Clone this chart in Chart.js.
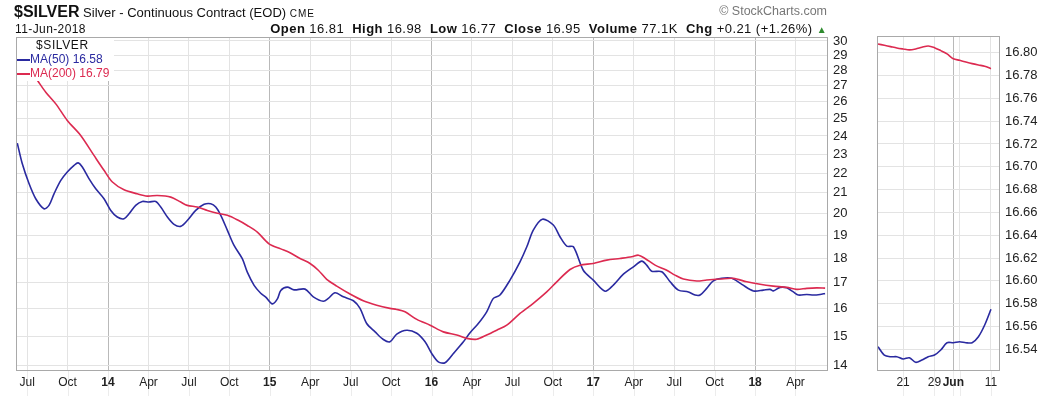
<!DOCTYPE html>
<html>
<head>
<meta charset="utf-8">
<script src="https://cdn.jsdelivr.net/npm/chart.js@4.4.1/dist/chart.umd.min.js"></script>
<style>
  body { margin: 0; width: 1059px; height: 396px; background: #fff; position: relative; overflow: hidden;
         font-family: "Liberation Sans", Arial, sans-serif; color: #111; }
  .txt { position: absolute; white-space: pre; line-height: 1; }
  #mainChart { position: absolute; left: 0; top: 0; }
  #zoomChart { position: absolute; left: 870px; top: 0; }
  #legend { position: absolute; left: 17px; top: 38px; width: 97px; height: 43px; background: #fff; }
</style>
</head>
<body>
<canvas id="mainChart" width="870" height="396"></canvas>
<canvas id="zoomChart" width="189" height="396"></canvas>

<div class="txt" style="left:14px;top:4px"><b style="font-size:16px">$SILVER</b><span style="font-size:13px"> Silver - Continuous Contract (EOD) </span><span style="font-size:10px;letter-spacing:1px">CME</span></div>
<div class="txt" style="left:15px;top:23px;font-size:12px;letter-spacing:0.4px">11-Jun-2018</div>
<div class="txt" style="right:232px;top:5px;font-size:12.5px;color:#777">© StockCharts.com</div>
<div class="txt" style="right:232px;top:22px;font-size:13px;letter-spacing:0.45px"><b>Open</b> 16.81  <b>High</b> 16.98  <b>Low</b> 16.77  <b>Close</b> 16.95  <b>Volume</b> 77.1K  <b>Chg</b> +0.21 (+1.26%) <span style="color:#2e8b2e;font-size:10px">▲</span></div>

<div id="legend">
  <div class="txt" style="left:19px;top:1px;font-size:12px;letter-spacing:0.6px">$SILVER</div>
  <div class="txt" style="left:0;top:15px;font-size:12px;color:#2a2aa0"><span style="display:inline-block;width:13px;height:2px;background:#2a2aa0;vertical-align:middle"></span>MA(50) 16.58</div>
  <div class="txt" style="left:0;top:29px;font-size:12px;color:#dc2a50"><span style="display:inline-block;width:13px;height:2px;background:#dc2a50;vertical-align:middle"></span>MA(200) 16.79</div>
</div>

<script>
// main panel: x is the date as a decimal year
const quarterTicks = [2013.5, 2013.75, 2014, 2014.25, 2014.5, 2014.75, 2015, 2015.25, 2015.5, 2015.75,
  2016, 2016.25, 2016.5, 2016.75, 2017, 2017.25, 2017.5, 2017.75, 2018, 2018.25]
const quarterLabels = ['Jul', 'Oct', '14', 'Apr', 'Jul', 'Oct', '15', 'Apr', 'Jul', 'Oct',
  '16', 'Apr', 'Jul', 'Oct', '17', 'Apr', 'Jul', 'Oct', '18', 'Apr']
const priceTicks = [14, 15, 16, 17, 18, 19, 20, 21, 22, 23, 24, 25, 26, 27, 28, 29, 30]

const ma50Dates = [2013.439, 2013.470, 2013.512, 2013.553, 2013.604, 2013.635, 2013.666, 2013.708, 2013.748, 2013.790,
  2013.815, 2013.841, 2013.883, 2013.924, 2013.975, 2014.017, 2014.057, 2014.099, 2014.130, 2014.171,
  2014.212, 2014.253, 2014.295, 2014.326, 2014.367, 2014.408, 2014.449, 2014.490, 2014.542, 2014.594,
  2014.635, 2014.666, 2014.697, 2014.738, 2014.779, 2014.830, 2014.861, 2014.903, 2014.944, 2014.975,
  2015.016, 2015.047, 2015.068, 2015.108, 2015.150, 2015.218, 2015.269, 2015.331, 2015.362, 2015.403,
  2015.455, 2015.517, 2015.558, 2015.599, 2015.651, 2015.702, 2015.743, 2015.785, 2015.847, 2015.909,
  2015.960, 2016.001, 2016.042, 2016.083, 2016.135, 2016.197, 2016.238, 2016.289, 2016.341, 2016.382,
  2016.423, 2016.485, 2016.547, 2016.589, 2016.629, 2016.685, 2016.753, 2016.794, 2016.836, 2016.877,
  2016.938, 2017.000, 2017.073, 2017.124, 2017.186, 2017.248, 2017.300, 2017.330, 2017.361, 2017.423,
  2017.475, 2017.526, 2017.588, 2017.629, 2017.660, 2017.701, 2017.742, 2017.794, 2017.856, 2017.918,
  2017.990, 2018.051, 2018.093, 2018.113, 2018.155, 2018.196, 2018.237, 2018.268, 2018.320, 2018.360,
  2018.402, 2018.433]
const ma50 = [23.60, 22.48, 21.45, 20.71, 20.23, 20.39, 20.95, 21.62, 22.05, 22.40,
  22.53, 22.31, 21.70, 21.20, 20.71, 20.15, 19.84, 19.76, 19.99, 20.39,
  20.58, 20.55, 20.58, 20.31, 19.84, 19.50, 19.41, 19.68, 20.15, 20.44,
  20.47, 20.31, 19.92, 19.23, 18.56, 17.99, 17.43, 16.90, 16.59, 16.44,
  16.18, 16.37, 16.70, 16.83, 16.72, 16.75, 16.45, 16.28, 16.39, 16.61,
  16.45, 16.30, 16.01, 15.45, 15.15, 14.88, 14.80, 15.07, 15.21, 15.10,
  14.80, 14.40, 14.12, 14.09, 14.40, 14.80, 15.12, 15.45, 15.88, 16.39,
  16.52, 17.11, 17.86, 18.50, 19.24, 19.74, 19.47, 18.94, 18.53, 18.50,
  17.51, 17.11, 16.67, 16.91, 17.35, 17.65, 17.89, 17.72, 17.47, 17.45,
  17.04, 16.71, 16.64, 16.52, 16.52, 16.78, 17.08, 17.18, 17.18, 16.94,
  16.68, 16.71, 16.74, 16.68, 16.82, 16.80, 16.64, 16.52, 16.54, 16.52,
  16.54, 16.58]

const ma200Dates = [2013.437, 2013.499, 2013.563, 2013.615, 2013.677, 2013.748, 2013.831, 2013.913, 2013.975, 2014.027,
  2014.099, 2014.181, 2014.243, 2014.305, 2014.388, 2014.449, 2014.490, 2014.552, 2014.614, 2014.676,
  2014.738, 2014.799, 2014.861, 2014.923, 2014.995, 2015.068, 2015.125, 2015.187, 2015.249, 2015.300,
  2015.352, 2015.414, 2015.496, 2015.578, 2015.661, 2015.743, 2015.785, 2015.836, 2015.909, 2015.991,
  2016.073, 2016.156, 2016.218, 2016.279, 2016.341, 2016.403, 2016.465, 2016.547, 2016.629, 2016.712,
  2016.774, 2016.856, 2016.918, 2017.000, 2017.083, 2017.165, 2017.238, 2017.279, 2017.320, 2017.382,
  2017.454, 2017.505, 2017.557, 2017.640, 2017.701, 2017.784, 2017.866, 2017.949, 2018.031, 2018.113,
  2018.196, 2018.258, 2018.320, 2018.381, 2018.433]
const ma200 = [29.20, 28.28, 27.35, 26.60, 25.88, 24.89, 24.03, 22.93, 22.14, 21.54,
  21.15, 20.95, 20.84, 20.87, 20.79, 20.55, 20.39, 20.31, 20.15, 20.02,
  19.92, 19.71, 19.45, 19.15, 18.63, 18.41, 18.24, 18.00, 17.79, 17.51,
  17.14, 16.87, 16.56, 16.30, 16.13, 16.01, 15.97, 15.88, 15.60, 15.39,
  15.15, 15.04, 14.92, 14.89, 15.04, 15.21, 15.39, 15.82, 16.20, 16.64,
  17.04, 17.54, 17.72, 17.79, 17.93, 18.00, 18.07, 18.14, 18.00, 17.72,
  17.51, 17.31, 17.15, 17.07, 17.11, 17.15, 17.18, 17.04, 16.94, 16.87,
  16.82, 16.74, 16.78, 16.80, 16.79]

// zoom panel: last trading days, x is the day index
const zoomDays = ['May 15', 'May 16', 'May 17', 'May 18', 'May 21', 'May 22', 'May 23', 'May 24', 'May 25', 'May 29',
  'May 30', 'May 31', 'Jun 1', 'Jun 4', 'Jun 5', 'Jun 6', 'Jun 7', 'Jun 8', 'Jun 11']
const zoomMa50 = [16.5423, 16.5350, 16.5335, 16.5335, 16.5315, 16.5326, 16.5286, 16.5306, 16.5335, 16.5350,
  16.5394, 16.5458, 16.5458, 16.5467, 16.5458, 16.5458, 16.5510, 16.5613, 16.5751]
const zoomMa200 = [16.8076, 16.8065, 16.8053, 16.8041, 16.8032, 16.8024, 16.8032, 16.8047, 16.8059, 16.8044,
  16.8018, 16.7989, 16.7947, 16.7933, 16.7918, 16.7904, 16.7892, 16.7881, 16.7860]
const zoomTickIdx = [4, 9, 12, 13, 18]
const zoomTickLabels = ['21', '29', 'Jun', '', '11']
const zoomPriceTicks = [16.54, 16.56, 16.58, 16.60, 16.62, 16.64, 16.66, 16.68, 16.70, 16.72, 16.74, 16.76, 16.78, 16.80]

const BLUE = '#2a2aa0'
const RED = '#dc2a50'
const FONT = 'Liberation Sans'

Chart.defaults.font.family = FONT
Chart.defaults.color = '#222'

// box around the plot and faint tick lines under the date axis
const frame = {
  id: 'frame',
  beforeDraw(chart) {
    const {ctx, chartArea: a} = chart
    const x = chart.scales.x
    ctx.save()
    ctx.strokeStyle = '#ececec'
    ctx.lineWidth = 1
    x.ticks.forEach(t => {
      const px = Math.round(x.getPixelForValue(t.value)) + 0.5
      ctx.beginPath()
      ctx.moveTo(px, a.bottom)
      ctx.lineTo(px, chart.height)
      ctx.stroke()
    })
    ctx.restore()
  },
  afterDraw(chart) {
    const {ctx, chartArea: a} = chart
    ctx.save()
    ctx.strokeStyle = '#a9a9a9'
    ctx.lineWidth = 1
    ctx.strokeRect(a.left + 0.5, a.top + 0.5, a.right - a.left - 1, a.bottom - a.top - 1)
    ctx.restore()
  }
}

const line = (label, pts, color) => ({
  label: label,
  data: pts,
  borderColor: color,
  backgroundColor: color,
  borderWidth: 1.6,
  pointRadius: 0,
  tension: 0.3,
  fill: false,
})

new Chart(document.getElementById('mainChart'), {
  type: 'line',
  data: {
    datasets: [
      line('MA(200)', ma200Dates.map((d, i) => ({x: d, y: ma200[i]})), RED),
      line('MA(50)', ma50Dates.map((d, i) => ({x: d, y: ma50[i]})), BLUE),
    ],
  },
  options: {
    responsive: false,
    animation: false,
    layout: { padding: { left: 16, top: 37, right: 0, bottom: 0 } },
    plugins: { legend: { display: false }, tooltip: { enabled: false } },
    scales: {
      x: {
        type: 'linear',
        min: 2013.431,
        max: 2018.451,
        afterBuildTicks: s => { s.ticks = quarterTicks.map(v => ({value: v})) },
        afterFit: s => { s.height = 25 },
        border: { display: false },
        grid: {
          drawTicks: false,
          color: c => (c.tick && Number.isInteger(c.tick.value)) ? '#b9b9b9' : '#e3e3e3',
        },
        ticks: {
          autoSkip: false,
          maxRotation: 0,
          padding: 4,
          color: '#222',
          font: c => ({ family: FONT, size: 12, weight: (c.tick && Number.isInteger(c.tick.value)) ? 'bold' : 'normal' }),
          callback: (v, i) => quarterLabels[i],
        },
      },
      y: {
        type: 'logarithmic',
        position: 'right',
        min: 13.82,
        max: 30.28,
        afterBuildTicks: s => { s.ticks = priceTicks.map(v => ({value: v})) },
        afterFit: s => { s.width = 42 },
        border: { display: false },
        grid: { drawTicks: false, color: '#e3e3e3' },
        ticks: {
          padding: 5,
          color: '#222',
          font: { family: FONT, size: 13 },
          callback: v => String(v),
        },
      },
    },
  },
  plugins: [frame],
})

new Chart(document.getElementById('zoomChart'), {
  type: 'line',
  data: {
    datasets: [
      line('MA(200)', zoomMa200.map((v, i) => ({x: i, y: v})), RED),
      line('MA(50)', zoomMa50.map((v, i) => ({x: i, y: v})), BLUE),
    ],
  },
  options: {
    responsive: false,
    animation: false,
    layout: { padding: { left: 7, top: 36, right: 0, bottom: 0 } },
    plugins: { legend: { display: false }, tooltip: { enabled: false } },
    scales: {
      x: {
        type: 'linear',
        min: -0.16,
        max: 19.44,
        afterBuildTicks: s => { s.ticks = zoomTickIdx.map(v => ({value: v})) },
        afterFit: s => { s.height = 25 },
        border: { display: false },
        grid: {
          drawTicks: false,
          color: c => (c.tick && zoomDays[c.tick.value] === 'Jun 1') ? '#b9b9b9' : '#e3e3e3',
        },
        ticks: {
          autoSkip: false,
          maxRotation: 0,
          padding: 4,
          color: '#222',
          font: c => ({ family: FONT, size: 12, weight: (c.tick && zoomTickLabels[c.index] === 'Jun') ? 'bold' : 'normal' }),
          callback: (v, i) => zoomTickLabels[i],
        },
      },
      y: {
        type: 'linear',
        position: 'right',
        min: 16.521,
        max: 16.8146,
        afterBuildTicks: s => { s.ticks = zoomPriceTicks.map(v => ({value: v})) },
        afterFit: s => { s.width = 59 },
        border: { display: false },
        grid: { drawTicks: false, color: '#e3e3e3' },
        ticks: {
          padding: 5,
          color: '#222',
          font: { family: FONT, size: 13 },
          callback: v => v.toFixed(2),
        },
      },
    },
  },
  plugins: [frame],
})
</script>
</body>
</html>
